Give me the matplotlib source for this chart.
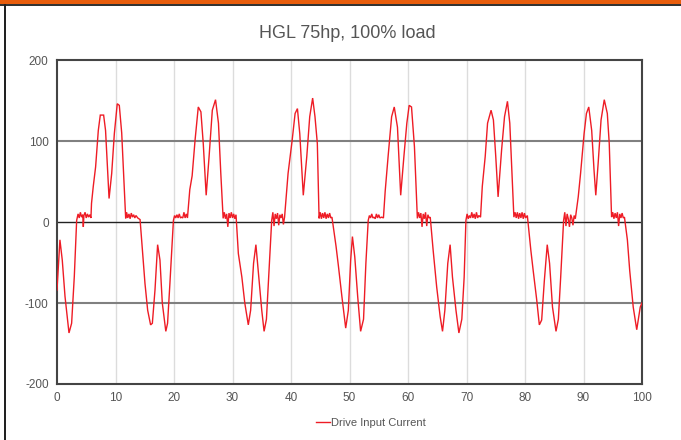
import matplotlib
matplotlib.use("Agg")
import matplotlib.pyplot as plt
from matplotlib.patches import Rectangle
from matplotlib.lines import Line2D

plt.rcParams['font.family'] = ['Liberation Sans', 'DejaVu Sans']
plt.rcParams['axes.unicode_minus'] = False

title = "HGL 75hp, 100% load"
series_name = "Drive Input Current"
x_ticks = [0, 10, 20, 30, 40, 50, 60, 70, 80, 90, 100]
y_ticks = [-200, -100, 0, 100, 200]

time_ms = [
    0, 0.5, 0.9, 1.37, 2.05, 2.5, 2.96, 3.36,
    3.6, 3.8, 4.0, 4.2, 4.4, 4.5, 4.6, 4.8, 5.0, 5.2, 5.4, 5.6, 5.8,
    5.9, 6.2, 6.6, 7.06, 7.4, 7.97, 8.3, 8.9, 9.35, 9.8, 10.3, 10.65, 11.06, 11.74,
    11.9, 12.1, 12.3, 12.5, 12.7, 12.9, 13.1, 13.3, 13.5, 13.8, 14.2,
    14.6, 15.04, 15.5, 16.0, 16.3, 16.75, 17.2, 17.6, 18.0, 18.6, 18.9, 19.3, 19.9,
    20.1, 20.3, 20.5, 20.7, 20.9, 21.1, 21.3, 21.5, 21.7, 21.9, 22.1, 22.3,
    22.7, 23.1, 23.6, 24.15, 24.6, 25.0, 25.5, 26.0, 26.55, 27.1, 27.6, 28.0, 28.4,
    28.6, 28.8, 29.0, 29.2, 29.4, 29.6, 29.8, 30.0, 30.2, 30.4, 30.6,
    31.0, 31.6, 32.1, 32.7, 33.1, 33.6, 34.0, 34.4, 35.0, 35.4, 35.8, 36.3, 36.7,
    36.9, 37.1, 37.3, 37.5, 37.7, 37.9, 38.1, 38.3, 38.5, 38.7, 38.9,
    39.5, 40.2, 40.7, 41.1, 41.5, 42.1, 42.7, 43.2, 43.7, 44.1, 44.5, 44.8,
    45.0, 45.2, 45.4, 45.6, 45.8, 46.0, 46.2, 46.4, 46.6, 46.8, 47.0,
    47.7, 48.1, 48.7, 49.35, 49.8, 50.2, 50.5, 50.9, 51.4, 51.9, 52.4, 52.8, 53.2,
    53.4, 53.6, 53.8, 54.0, 54.2, 54.4, 54.6, 54.8, 55.0, 55.2, 55.5, 55.8,
    56.1, 56.6, 57.2, 57.65, 58.2, 58.75, 59.3, 59.8, 60.2, 60.6, 61.1, 61.6,
    61.8, 62.0, 62.2, 62.4, 62.6, 62.8, 63.0, 63.2, 63.4, 63.6, 63.8,
    64.3, 64.9, 65.5, 65.9, 66.3, 66.8, 67.2, 67.6, 68.2, 68.7, 69.2, 69.6, 69.9,
    70.1, 70.3, 70.5, 70.7, 70.9, 71.1, 71.3, 71.5, 71.7, 71.9, 72.1, 72.4,
    72.7, 73.2, 73.6, 74.2, 74.6, 75.0, 75.4, 76.0, 76.5, 77.0, 77.4, 78.1,
    78.3, 78.5, 78.7, 78.9, 79.1, 79.3, 79.5, 79.7, 79.9, 80.1, 80.4,
    81.0, 81.4, 82.0, 82.45, 82.85, 83.3, 83.8, 84.2, 84.7, 85.3, 85.7, 86.1, 86.6,
    86.8, 87.0, 87.2, 87.4, 87.6, 87.8, 88.0, 88.2, 88.4, 88.6,
    89.1, 89.5, 90.1, 90.5, 90.9, 91.4, 91.8, 92.1, 92.5, 93.0, 93.55, 94.07, 94.4, 94.8,
    95.0, 95.2, 95.4, 95.6, 95.8, 96.0, 96.2, 96.4, 96.6, 96.8, 97.0,
    97.5, 97.9, 98.5, 99.1, 99.7, 100,
]

current_a = [
    -84, -22, -47, -92, -137, -125, -67, 2,
    10, 5, 12, 6, 9, -6, 8, 12, 5, 10, 6, 9, 5,
    23, 44, 68, 113, 132, 132, 113, 29, 60, 109, 146, 144, 110, 4.5,
    12, 5, 10, 4, 11, 6, 9, 5, 8, 5, 3,
    -35, -76, -109, -127, -125, -84, -28, -47, -100, -135, -125, -76, 2,
    8, 5, 9, 5, 10, 5, 6, 5, 12, 5, 10, 5,
    40, 57, 101, 142, 136, 97, 33, 81, 138, 151, 122, 60, 4.5,
    12, 4, 10, -6, 11, 5, 12, 5, 10, 4, 9,
    -39, -68, -100, -127, -109, -51, -28, -60, -109, -135, -120, -51, 2,
    12, -5, 10, 4, 11, -4, 9, 5, 10, -3, 6,
    60, 101, 134, 140, 109, 33, 81, 130, 153, 130, 97, 4.5,
    12, 4, 11, 5, 12, 4, 10, 5, 11, 5, 6,
    -30, -54, -92, -131, -109, -47, -18, -43, -92, -135, -120, -51, 2,
    8, 5, 10, 5, 6, 4, 10, 5, 9, 5, 6, 5,
    38, 81, 130, 142, 117, 33, 81, 122, 144, 142, 93, 4.5,
    12, 5, 11, -6, 10, 4, 12, -5, 9, 5, 6,
    -35, -80, -117, -135, -109, -51, -28, -68, -109, -137, -120, -68, 2,
    10, 4, 8, 5, 12, 5, 10, 4, 12, 5, 8, 6,
    44, 81, 122, 138, 126, 81, 31, 89, 130, 149, 122, 6,
    12, 5, 12, 4, 11, 5, 12, 4, 11, 5, 8,
    -35, -60, -96, -127, -121, -73, -28, -51, -105, -135, -120, -68, 2,
    12, -5, 10, 4, -6, 9, 5, -4, 8, 4,
    31, 60, 109, 134, 142, 113, 64, 33, 72, 126, 151, 134, 97, 6,
    12, 4, 11, 5, 12, -5, 10, 5, 11, 5, 6,
    -22, -60, -105, -133, -105, -100,
]

W, H = 681, 440
fig = plt.figure(figsize=(W / 100, H / 100), dpi=100)
fig.patch.set_facecolor('white')

# frame decorations
fig.add_artist(Rectangle((0, 1 - 4 / H), 1, 4 / H, transform=fig.transFigure,
                         facecolor='#e85d0c', edgecolor='none', zorder=0))
fig.add_artist(Rectangle((0, 1 - 6.5 / H), 1, 2.5 / H, transform=fig.transFigure,
                         facecolor='#333333', edgecolor='none', zorder=0))
fig.add_artist(Rectangle((3.5 / W, 0), 2.5 / W, 1 - 4 / H, transform=fig.transFigure,
                         facecolor='#222222', edgecolor='none', zorder=0))

left, right, top, bottom = 57 / W, 642 / W, 1 - 60 / H, 1 - 384 / H
ax = fig.add_axes([left, bottom, right - left, top - bottom])

ax.set_xlim(0, 100)
ax.set_ylim(-200, 200)
ax.set_xticks(x_ticks)
ax.set_yticks(y_ticks)
ax.tick_params(length=0, labelsize=8.5, labelcolor='#555555', pad=6)

for xv in x_ticks[1:-1]:
    ax.axvline(xv, color='#dcdcdc', lw=1.0, zorder=1)
for yv in (-100, 100):
    ax.axhline(yv, color='#808080', lw=1.5, zorder=1)
ax.axhline(0, color='#222222', lw=1.0, zorder=1)

for s in ax.spines.values():
    s.set_color('#444444')
    s.set_linewidth(1.5)

ax.plot(time_ms, current_a, color='#ee1c25', lw=1.0, zorder=3, solid_joinstyle='miter')

fig.text(347 / W, 1 - 34 / H, title, ha='center', va='center',
         fontsize=13, color='#555555')

handle = Line2D([], [], color='#ee1c25', lw=1.0)
fig.legend([handle], [series_name], loc='center', bbox_to_anchor=(371 / W, 1 - 423 / H),
           frameon=False, fontsize=8, handlelength=1.2, handletextpad=0.1,
           labelcolor='#555555')

fig.savefig('out.png', dpi=100)
